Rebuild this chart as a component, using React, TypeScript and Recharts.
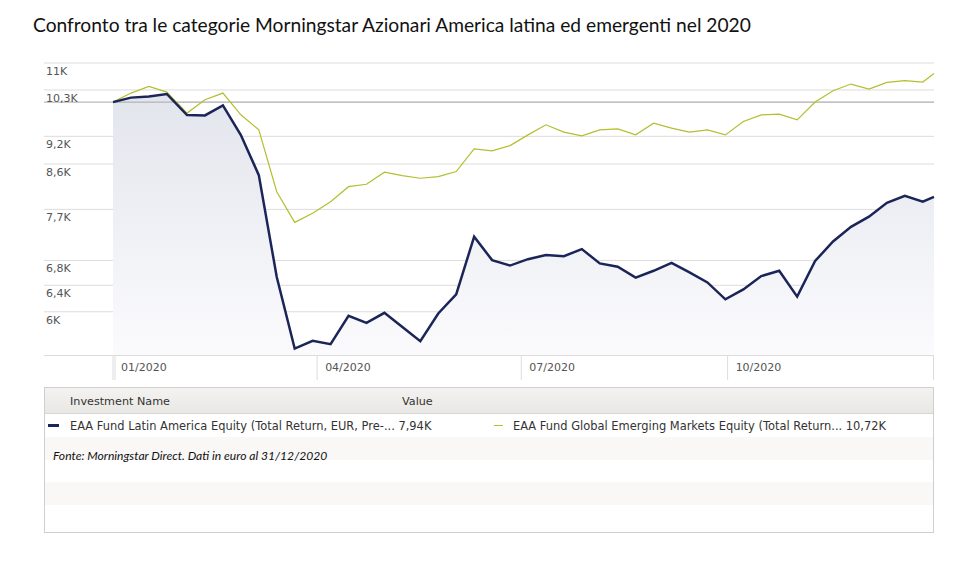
import React from "react";
import {
  Area,
  CartesianGrid,
  ComposedChart,
  Line,
  ReferenceLine,
  XAxis,
  YAxis,
} from "recharts";

// days since 01/01/2020 of each observation
const days = [
  0, 8, 16, 24, 33, 41, 49, 57, 65, 73, 81, 89, 97, 105, 113, 121, 129, 137,
  145, 153, 161, 169, 177, 185, 193, 201, 209, 217, 225, 233, 241, 249, 257,
  265, 273, 281, 289, 297, 305, 313, 321, 329, 337, 345, 353, 361, 366,
];

const latam = [
  10000, 10110, 10140, 10200, 9690, 9680, 9920, 9230, 8370, 6530, 5485, 5590,
  5545, 5940, 5840, 5985, 5780, 5585, 5975, 6260, 7205, 6805, 6715, 6820, 6890,
  6870, 6990, 6750, 6695, 6520, 6630, 6760, 6605, 6445, 6185, 6335, 6545, 6630,
  6225, 6790, 7120, 7380, 7565, 7825, 7960, 7845, 7940,
];

const emerging = [
  10000, 10223, 10390, 10248, 9736, 10058, 10223, 9695, 9347, 8039, 7460, 7626,
  7846, 8138, 8186, 8430, 8360, 8307, 8340, 8443, 8923, 8880, 8995, 9233, 9462,
  9294, 9211, 9347, 9370, 9233, 9501, 9386, 9294, 9347, 9233, 9538, 9695, 9712,
  9578, 10002, 10282, 10450, 10324, 10491, 10535, 10502, 10720,
];

const yTicks = [6000, 6400, 6800, 7700, 8600, 9200, 10000, 10300, 11000];
const xTicks = [0, 91, 182, 274];
const xTickLabels = ["01/2020", "04/2020", "07/2020", "10/2020"];

const data = days.map((d, i) => ({ day: d, latam: latam[i], emerging: emerging[i] }));

const NAVY = "#1b2558";
const GREEN = "#b3bf2e";
const GRID = "#dcdcdc";
const AXIS_FONT = "'DejaVu Sans', Verdana, sans-serif";

const GRID_LEFT = 44;
const PLOT_LEFT = 113;
const PLOT_BOTTOM = 355;

function fmtK(v: number) {
  return (v / 1000).toString().replace(".", ",") + "K";
}

function YTick(props: any) {
  const { y, payload } = props;
  const base = payload.value === 10000;
  return (
    <g>
      <line x1={GRID_LEFT} x2={PLOT_LEFT} y1={y} y2={y} stroke={base ? "#a8a8a8" : GRID} />
      {!base && (
        <text x={GRID_LEFT + 2} y={y + 12} fontSize={11} fill="#555" fontFamily={AXIS_FONT}>
          {fmtK(payload.value)}
        </text>
      )}
    </g>
  );
}

function XTick(props: any) {
  const { x, payload, index } = props;
  return (
    <g>
      <line x1={x} x2={x} y1={PLOT_BOTTOM} y2={PLOT_BOTTOM + 25} stroke={GRID} />
      {index === 0 && (
        <line x1={x + 2} x2={x + 2} y1={PLOT_BOTTOM} y2={PLOT_BOTTOM + 25} stroke={GRID} />
      )}
      <text x={x + 8} y={PLOT_BOTTOM + 15.5} fontSize={11} fill="#555" fontFamily={AXIS_FONT}>
        {xTickLabels[xTicks.indexOf(payload.value)]}
      </text>
    </g>
  );
}

const cell: React.CSSProperties = {
  position: "absolute",
  fontFamily: AXIS_FONT,
  fontSize: 11.2,
  color: "#333",
  whiteSpace: "nowrap",
};

export default function App() {
  return (
    <div
      style={{
        position: "absolute",
        left: 0,
        top: 0,
        width: 964,
        height: 565,
        background: "#fff",
        overflow: "hidden",
      }}
    >
      <div
        style={{
          position: "absolute",
          left: 33,
          top: 15,
          fontFamily: "Lato, sans-serif",
          fontSize: 19.2,
          lineHeight: "19px",
          color: "#111",
          whiteSpace: "nowrap",
        }}
      >
        Confronto tra le categorie Morningstar Azionari America latina ed emergenti nel 2020
      </div>

      <div style={{ position: "absolute", left: 0, top: 0 }}>
        <ComposedChart
          width={964}
          height={385}
          data={data}
          margin={{ top: 63, right: 30, left: GRID_LEFT, bottom: 5 }}
        >
          <defs>
            <linearGradient id="latamFill" x1="0" y1="0" x2="0" y2="1">
              <stop offset="0%" stopColor="#e3e5ed" />
              <stop offset="100%" stopColor="#fbfbfd" />
            </linearGradient>
          </defs>
          <CartesianGrid vertical={false} stroke={GRID} />
          <XAxis
            dataKey="day"
            type="number"
            domain={[0, 366]}
            ticks={xTicks}
            tick={<XTick />}
            tickLine={false}
            axisLine={false}
            height={25}
            interval={0}
          />
          <YAxis
            scale="log"
            type="number"
            domain={[5400, 11000]}
            allowDataOverflow
            ticks={yTicks}
            tick={<YTick />}
            tickLine={false}
            axisLine={false}
            width={PLOT_LEFT - GRID_LEFT}
            interval={0}
          />
          <ReferenceLine y={10000} stroke="#a8a8a8" />
          <Area
            type="linear"
            dataKey="latam"
            stroke="none"
            fill="url(#latamFill)"
            fillOpacity={1}
            baseValue="dataMin"
            isAnimationActive={false}
          />
          <Line
            type="linear"
            dataKey="emerging"
            stroke={GREEN}
            strokeWidth={1.2}
            dot={false}
            isAnimationActive={false}
          />
          <Line
            type="linear"
            dataKey="latam"
            stroke={NAVY}
            strokeWidth={2.5}
            dot={false}
            isAnimationActive={false}
          />
        </ComposedChart>
      </div>

      {/* axis strip border */}
      <div
        style={{
          position: "absolute",
          left: GRID_LEFT,
          top: PLOT_BOTTOM,
          width: 890,
          height: 25,
          borderTop: `1px solid ${GRID}`,
          borderRight: `1px solid ${GRID}`,
          boxSizing: "border-box",
        }}
      />

      {/* legend table */}
      <div
        style={{
          position: "absolute",
          left: GRID_LEFT,
          top: 387,
          width: 890,
          height: 146,
          border: "1px solid #cfcfcf",
          boxSizing: "border-box",
          background: "#fff",
        }}
      >
        <div
          style={{
            position: "absolute",
            left: 0,
            top: 0,
            right: 0,
            height: 25,
            background: "linear-gradient(#f4f3f1, #e9e7e4)",
            borderBottom: "1px solid #d6d6d6",
          }}
        />
        <div style={{ position: "absolute", left: 0, right: 0, top: 49, height: 23, background: "#f9f8f7" }} />
        <div style={{ position: "absolute", left: 0, right: 0, top: 94, height: 23, background: "#f9f8f7" }} />

        <div style={{ ...cell, left: 25, top: 7 }}>Investment Name</div>
        <div style={{ ...cell, left: 357, top: 7 }}>Value</div>

        <div style={{ position: "absolute", left: 3, top: 36, width: 11, height: 3, background: NAVY }} />
        <div style={{ ...cell, left: 25, top: 31, fontSize: 11.45 }}>
          EAA Fund Latin America Equity (Total Return, EUR, Pre-... 7,94K
        </div>
        <div style={{ position: "absolute", left: 449, top: 36.5, width: 9, height: 1.5, background: GREEN }} />
        <div style={{ ...cell, left: 468, top: 31, fontSize: 11.45 }}>
          EAA Fund Global Emerging Markets Equity (Total Return... 10,72K
        </div>

        <div
          style={{
            ...cell,
            left: 8,
            top: 60,
            fontFamily: "Lato, sans-serif",
            fontStyle: "italic",
            fontSize: 12.1,
            color: "#111",
          }}
        >
          Fonte: Morningstar Direct. Dati in euro al 31/12/2020
        </div>
      </div>
    </div>
  );
}
